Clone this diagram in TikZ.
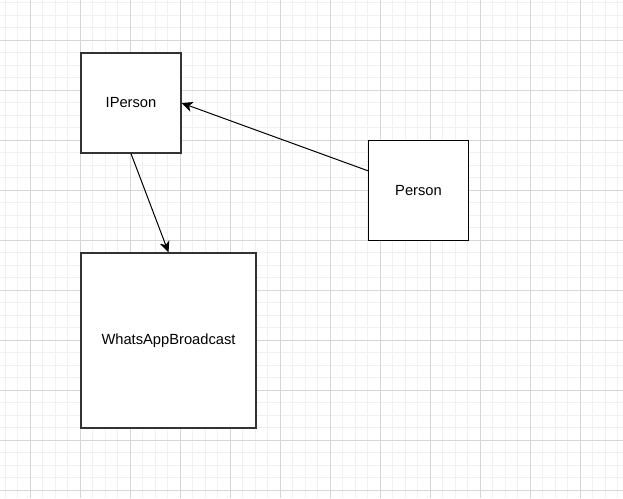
\documentclass[tikz,border=0pt]{standalone}
\usepackage{fontspec}
\setmainfont{Liberation Sans}
\usetikzlibrary{arrows.meta,calc}
\definecolor{minorgrid}{HTML}{F1F1F1}
\definecolor{majorgrid}{HTML}{D6D6D6}
\definecolor{boxline}{HTML}{333333}
\tikzset{
  minorline/.style={draw=minorgrid,line width=1pt},
  majorline/.style={draw=majorgrid,line width=1pt},
  umlbox/.style={draw=boxline,fill=white,line width=1.2pt,inner sep=0pt,font=\fontsize{14.7}{17}\selectfont},
  link/.style={draw=black,line width=1pt,-{Stealth[length=11pt,width=10pt,inset=3pt]}}
}
\begin{document}
\begin{tikzpicture}[x=1pt,y=-1pt]
\useasboundingbox (0,0) rectangle (623,498);
\fill[white] (0,0) rectangle (623,498);
\foreach \x in {5,17.5,...,620} \draw[minorline] (\x,0) -- (\x,498);
\foreach \y in {2.5,15,...,497} \draw[minorline] (0,\y) -- (623,\y);
\foreach \x in {30,80,...,580} \draw[majorline] (\x,0) -- (\x,498);
\foreach \y in {40,90,...,490} \draw[majorline] (0,\y) -- (623,\y);
\node[umlbox,minimum width=100pt,minimum height=100pt] (iperson) at (131,103) {IPerson};
\node[umlbox,draw=black,minimum width=100pt,minimum height=100pt] (person) at (418.5,190.5) {Person};
\node[umlbox,minimum width=175pt,minimum height=175pt] (whatsapp) at (168.5,340.5) {WhatsAppBroadcast};
\coordinate (pstart) at ($(person.north west)!0.305!(person.south west)$);
\draw[link] (pstart) -- (iperson.east);
\draw[link] (iperson.south) -- (whatsapp.north);
\end{tikzpicture}
\end{document}
